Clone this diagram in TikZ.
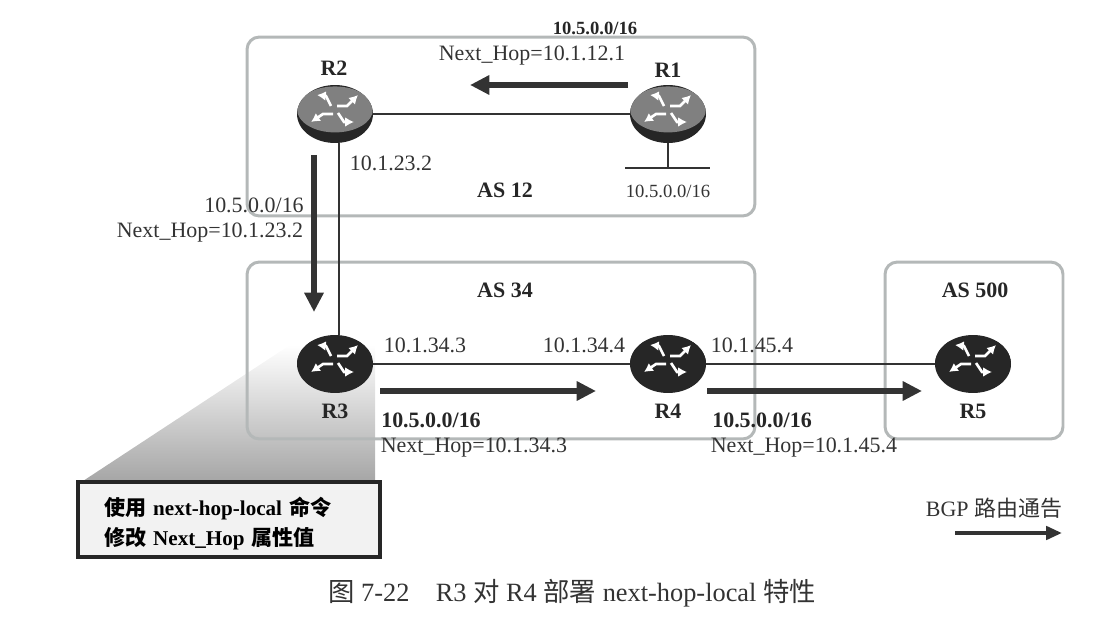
\documentclass[tikz,border=0pt]{standalone}
\usepackage{fontspec}
\setmainfont{Liberation Serif}
\newfontfamily\cjk{Noto Sans CJK SC}
\usepackage{tikz}
\usetikzlibrary{arrows.meta}
\usetikzlibrary{shapes.geometric}
\definecolor{boxgray}{HTML}{B4B8B8}
\definecolor{linkdark}{HTML}{333333}
\newcommand{\zh}[1]{{\cjk #1}}
\tikzset{AS/.style={draw=boxgray,line width=1.7pt,rounded corners=7pt}}
\tikzset{link/.style={draw=linkdark,line width=1.5pt}}
\tikzset{advert/.style={draw=linkdark,line width=3.4pt,-{Triangle[length=11pt,width=10.5pt]}}}
\tikzset{lbl/.style={font=\fontsize{12.5}{14}\selectfont,text=black!80,inner sep=0pt}}
\tikzset{blbl/.style={font=\fontsize{12.5}{14}\selectfont\bfseries,text=black!85,inner sep=0pt}}
\tikzset{small/.style={font=\fontsize{10.6}{12}\selectfont}}
\tikzset{smallb/.style={font=\fontsize{10.6}{12}\selectfont\bfseries}}
\tikzset{
router/.style={ellipse,fill=black!85,inner sep=0pt,minimum width=1.52cm,minimum height=1.16cm,
  path picture={
    \fill[#1] ([yshift=2.6pt]path picture bounding box.center) ellipse (0.76cm and 0.46cm);
    \begin{scope}[shift={(path picture bounding box.center)},white,line width=1.5pt,-{Latex[length=5pt,width=5.5pt]}]
      \draw (2,-8) -- (12,-8) -- (23,-19);
      \draw (-4,-8) -- (-9,-18) -- (-18,-19);
      \draw (-2,0) -- (-12,0) -- (-24,8);
      \draw (3,-1) -- (9,8) -- (19,8);
    \end{scope}
  }}
}

\begin{document}
\begin{tikzpicture}[x=0.02cm,y=-0.02cm]
\useasboundingbox (0,0) rectangle (1098,621);

% callout shadow
\coordinate (s1) at (83,481);
\coordinate (s2) at (290,345);
\coordinate (s3) at (375,345);
\coordinate (s4) at (375,481);
\shade[top color=white,bottom color=black!35] (s1) -- (s2) -- (s3) -- (s4) -- cycle;

% autonomous systems
\node[AS,minimum width=10.16cm,minimum height=3.58cm] (as12) at (501,126.5) {};
\node[AS,minimum width=10.16cm,minimum height=3.54cm] (as34) at (501,350.5) {};
\node[AS,minimum width=3.56cm,minimum height=3.54cm] (as500) at (974,350.5) {};

% routers
\node[router=black!50] (R2) at (335,114) {};
\node[router=black!50] (R1) at (668,114) {};
\node[router=black!85] (R3) at (335,364) {};
\node[router=black!85] (R4) at (668,364) {};
\node[router=black!85] (R5) at (973,364) {};

\draw[link] (R2.south -| 339,0) -- (R3.north -| 339,0);
\draw[link] (R2) -- (R1);
\draw[link] (R3) -- (R4);
\draw[link] (R4) -- (R5);

\coordinate (lanL) at (625,168);
\coordinate (lanR) at (710,168);
\draw[link] (R1) -- (668,168);
\draw[link] (lanL) -- (lanR);

% advertisements
\coordinate (a1) at (628,85);
\coordinate (b1) at (470,85);
\coordinate (a2) at (314,155);
\coordinate (b2) at (314,312);
\coordinate (a3) at (380,391);
\coordinate (b3) at (596,391);
\coordinate (a4) at (707,391);
\coordinate (b4) at (922,391);
\foreach \i in {1,2,3,4}
  {
 \draw[advert] (a\i) -- (b\i);
 }

% router names
\node[blbl] (nR2) at (334,68) {R2};
\node[blbl] (nR1) at (668,70) {R1};
\node[blbl] (nR3) at (335,411) {R3};
\node[blbl] (nR4) at (668,411) {R4};
\node[blbl] (nR5) at (973,411) {R5};
\node[blbl] (nAS12) at (505,190) {AS 12};
\node[blbl] (nAS34) at (505,290) {AS 34};
\node[blbl] (nAS500) at (975,290) {AS 500};

% addresses
\node[blbl,smallb] (p1) at (595,28) {10.5.0.0/16};
\node[lbl] (h1) at (532,56) {Next\_Hop=10.1.12.1};
\node[lbl] (i23) at (391,163) {10.1.23.2};
\node[lbl,small] (lan) at (668,191) {10.5.0.0/16};
\node[lbl] (p2) at (254,205) {10.5.0.0/16};
\node[lbl] (h2) at (210,233) {Next\_Hop=10.1.23.2};
\node[lbl] (i343) at (425,345) {10.1.34.3};
\node[lbl] (i344) at (584,345) {10.1.34.4};
\node[lbl] (i45) at (752,345) {10.1.45.4};
\node[blbl] (p3) at (431,420) {10.5.0.0/16};
\node[lbl] (h3) at (474,448) {Next\_Hop=10.1.34.3};
\node[blbl] (p4) at (762,420) {10.5.0.0/16};
\node[lbl] (h4) at (804,448) {Next\_Hop=10.1.45.4};

% callout
\node[draw=black!85,line width=2pt,fill=black!5,minimum width=6.04cm,minimum height=1.5cm,inner sep=0pt] (note) at (229,519.5) {};
\node[inner sep=0pt,text width=5cm,align=left,font=\fontsize{12}{17}\selectfont\bfseries] (noteText) at (229,523.5)
  {\zh{使用} next-hop-local \zh{命令}\\\zh{修改} Next\_Hop \zh{属性值}};

% legend
\node[lbl] (legend) at (994,508) {BGP \zh{路由通告}};
\coordinate (l1) at (955,533);
\coordinate (l2) at (1062,533);
\draw[draw=linkdark,line width=2.2pt,-{Triangle[length=9pt,width=7.5pt]}] (l1) -- (l2);

% caption
\node[lbl,font=\fontsize{15}{17}\selectfont] (caption) at (572,593) {\zh{图} 7-22\quad R3 \zh{对} R4 \zh{部署} next-hop-local \zh{特性}};
\end{tikzpicture}
\end{document}
